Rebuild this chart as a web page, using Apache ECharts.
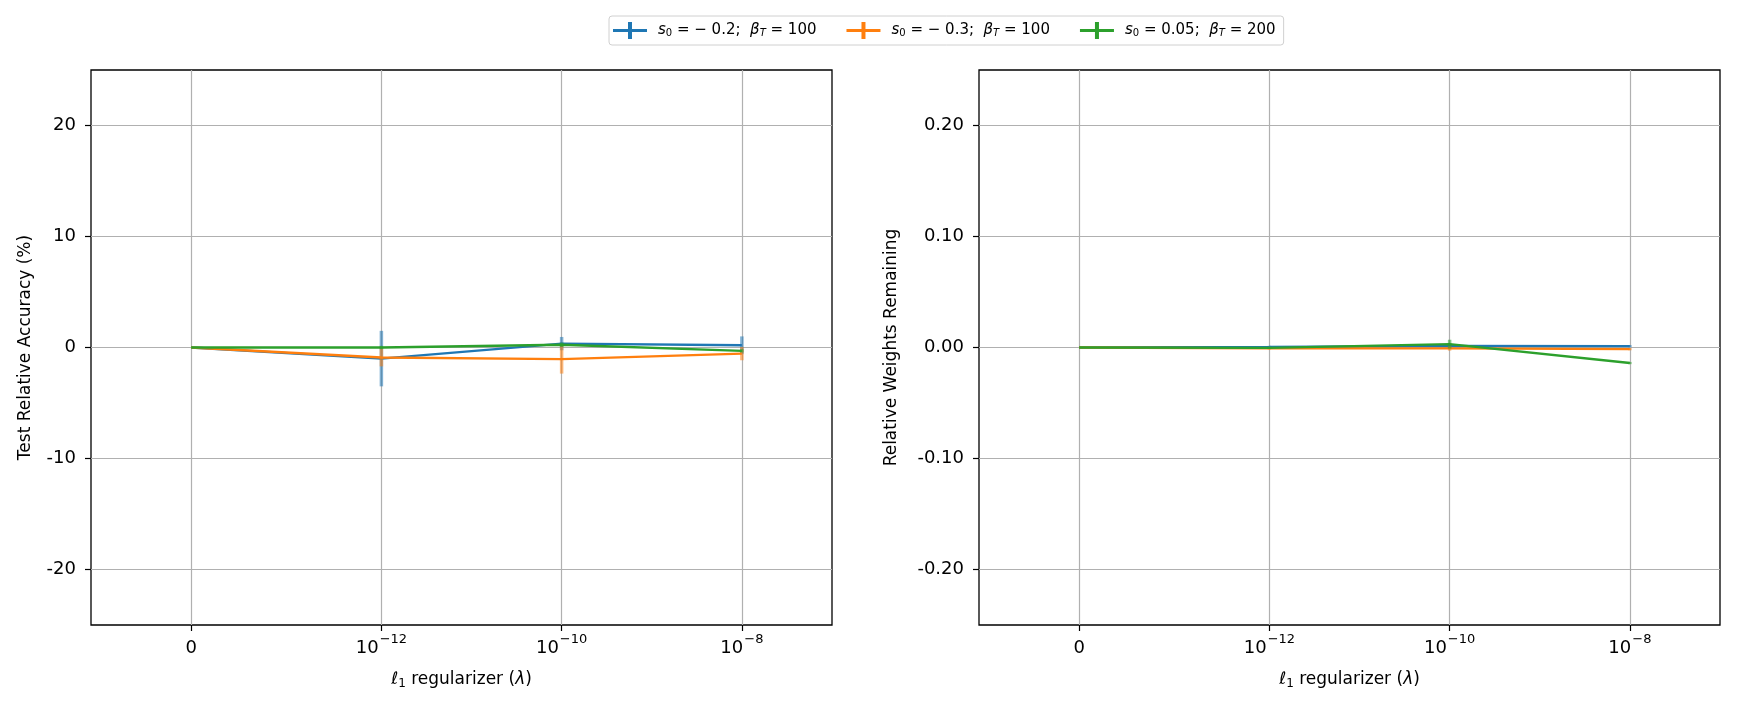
<!DOCTYPE html>
<html>
<head>
<meta charset="utf-8">
<script src="https://cdn.jsdelivr.net/npm/echarts@6/dist/echarts.min.js"></script>
<style>
html, body { margin: 0; background: #fff; }
#main { width: 1742px; height: 710px; }
</style>
</head>
<body>
<div id="main"></div>
<script>
// l1 regularizer values (x), shown on a symlog axis
var lambdas = [0, 1e-12, 1e-10, 1e-8];
var xTickLabels = ['0', '10^-12', '10^-10', '10^-8'];
var xLimits = [-1e-13, 1e-7];
var seriesNames = ['s0=-0.2, bT=100', 's0=-0.3, bT=100', 's0=0.05, bT=200'];
var colors = ['#1f77b4', '#ff7f0e', '#2ca02c'];

// left: test relative accuracy (%)
var accBlue = [0, -1.0, 0.35, 0.2];
var accBlueErr = [0, 2.5, 0.6, 0.8];
var accOrange = [0, -0.9, -1.05, -0.55];
var accOrangeErr = [0, 0.8, 1.3, 0.6];
var accGreen = [0, 0.0, 0.25, -0.3];
var accGreenErr = [0, 0.15, 0.2, 0.15];
var accTicks = [-20, -10, 0, 10, 20];

// right: relative weights remaining
var wBlue = [0, 0.0005, 0.0015, 0.0012];
var wBlueErr = [0, 0.001, 0.002, 0.001];
var wOrange = [0, -0.0008, -0.0008, -0.0015];
var wOrangeErr = [0, 0.001, 0.002, 0.001];
var wGreen = [0, -0.0003, 0.003, -0.014];
var wGreenErr = [0, 0.001, 0.004, 0.001];
var wTicks = [-0.2, -0.1, 0, 0.1, 0.2];

(function () {
    var myChart = echarts.init(document.getElementById('main'));
    var font = 'DejaVu Sans';

    // symlog transform, linthresh 1e-13, base 10
    function symlog(v) {
        var t = 1e-13, k = 1 / (1 - 1 / 10), a = Math.abs(v);
        if (a <= t) return v / t * k;
        return Math.sign(v) * (k + Math.log10(a / t));
    }
    var xPos = lambdas.map(symlog);

    var richTick = {
        b: { fontFamily: font, fontSize: 18, color: '#000', lineHeight: 24, verticalAlign: 'bottom' },
        sup: { fontFamily: font, fontSize: 13, color: '#000', verticalAlign: 'top', lineHeight: 24, padding: [0, 0, 0, 1] }
    };
    function xLabel(v) {
        var best = 0;
        for (var i = 0; i < xPos.length; i++) {
            if (Math.abs(xPos[i] - v) < Math.abs(xPos[best] - v)) best = i;
        }
        var s = xTickLabels[best].split('^');
        if (s.length === 1) return '{b|' + s[0] + '}';
        return '{b|' + s[0] + '}{sup|' + s[1].replace('-', '\u2212') + '}';
    }

    var richName = {
        n: { fontFamily: font, fontSize: 17, color: '#000' },
        i: { fontFamily: font, fontSize: 17, fontStyle: 'italic', color: '#000' },
        sub: { fontFamily: font, fontSize: 12, color: '#000', verticalAlign: 'bottom', padding: [8, 0, 0, 0] }
    };

    //误差棒
    function errRender(params, api) {
        var p1 = api.coord([api.value(0), api.value(1)]);
        var p2 = api.coord([api.value(0), api.value(2)]);
        return {
            type: 'line',
            shape: { x1: p1[0], y1: p1[1], x2: p2[0], y2: p2[1] },
            style: { stroke: api.visual('color'), lineWidth: 3.5, opacity: 0.55 }
        };
    }

    var grids = [
        { left: 91, top: 70, width: 741, height: 555 },
        { left: 979, top: 70, width: 741, height: 555 }
    ];
    grids.forEach(function (g) {
        g.show = true;
        g.borderColor = '#000';
        g.borderWidth = 1.3;
    });

    function makeX(idx) {
        return {
            type: 'value',
            gridIndex: idx,
            min: symlog(xLimits[0]),
            max: symlog(xLimits[1]),
            name: '{i|\u2113}{sub|1}{n| regularizer (}{i|\u03bb}{n|)}',
            nameLocation: 'middle',
            nameGap: 45,
            nameTextStyle: { rich: richName },
            axisLine: { show: false, onZero: false },
            axisTick: { show: true, inside: false, customValues: xPos, length: 6, lineStyle: { color: '#000', width: 1.2 } },
            axisLabel: { customValues: xPos, formatter: xLabel, rich: richTick, margin: 8 },
            splitLine: { show: true, lineStyle: { color: '#b0b0b0', width: 1.2 } }
        };
    }
    function makeY(idx, name, lim, ticks, digits, gap) {
        return {
            type: 'value',
            gridIndex: idx,
            min: -lim,
            max: lim,
            name: name,
            nameLocation: 'middle',
            nameGap: gap,
            nameTextStyle: { fontFamily: font, fontSize: 17, color: '#000' },
            axisLine: { show: false, onZero: false },
            axisTick: { show: true, inside: false, customValues: ticks, length: 6, lineStyle: { color: '#000', width: 1.2 } },
            axisLabel: {
                customValues: ticks,
                fontFamily: font, fontSize: 18, color: '#000', margin: 15,
                formatter: function (v) { return v.toFixed(digits); }
            },
            splitLine: { show: true, lineStyle: { color: '#b0b0b0', width: 1.2 } }
        };
    }

    var leftData = [[accBlue, accBlueErr], [accOrange, accOrangeErr], [accGreen, accGreenErr]];
    var rightData = [[wBlue, wBlueErr], [wOrange, wOrangeErr], [wGreen, wGreenErr]];
    var series = [];
    [leftData, rightData].forEach(function (panel, gi) {
        panel.forEach(function (d, si) {
            series.push({
                name: seriesNames[si],
                type: 'line',
                xAxisIndex: gi,
                yAxisIndex: gi,
                data: xPos.map(function (x, k) { return [x, d[0][k]]; }),
                showSymbol: false,
                color: colors[si],
                lineStyle: { width: 2.4, color: colors[si] },
                z: 3 + si * 2
            });
            series.push({
                name: seriesNames[si],
                type: 'custom',
                xAxisIndex: gi,
                yAxisIndex: gi,
                renderItem: errRender,
                encode: { x: 0, y: [1, 2] },
                data: xPos.map(function (x, k) { return [x, d[0][k] - d[1][k], d[0][k] + d[1][k]]; }),
                itemStyle: { color: colors[si] },
                z: 4 + si * 2
            });
        });
    });

    var legendRich = {
        n: { fontFamily: font, fontSize: 15, color: '#000' },
        i: { fontFamily: font, fontSize: 15, fontStyle: 'italic', color: '#000' },
        sub: { fontFamily: font, fontSize: 10, color: '#000', verticalAlign: 'bottom', padding: [6, 0, 0, 0] },
        subi: { fontFamily: font, fontSize: 10, fontStyle: 'italic', color: '#000', verticalAlign: 'bottom', padding: [6, 0, 0, 0] }
    };
    var legendText = {};
    legendText[seriesNames[0]] = '{i|s}{sub|0}{n| = \u2212 0.2;  }{i|\u03b2}{subi|T}{n| = 100}';
    legendText[seriesNames[1]] = '{i|s}{sub|0}{n| = \u2212 0.3;  }{i|\u03b2}{subi|T}{n| = 100}';
    legendText[seriesNames[2]] = '{i|s}{sub|0}{n| = 0.05;  }{i|\u03b2}{subi|T}{n| = 200}';

    var option = {
        animation: false,
        backgroundColor: '#fff',
        legend: {
            data: seriesNames,
            left: 609,
            top: 16,
            orient: 'horizontal',
            icon: 'path://M0,7 L34,7 L34,10 L0,10 Z M15,0 L19,0 L19,17 L15,17 Z',
            itemWidth: 34,
            itemHeight: 17,
            itemGap: 30,
            padding: [6, 8, 6, 4],
            borderColor: '#d0d0d0',
            borderWidth: 1,
            borderRadius: 3,
            formatter: function (name) { return legendText[name]; },
            textStyle: { rich: legendRich, padding: [0, 0, 0, 6] }
        },
        grid: grids,
        xAxis: [makeX(0), makeX(1)],
        yAxis: [
            makeY(0, 'Test Relative Accuracy (%)', 25, accTicks, 0, 57),
            makeY(1, 'Relative Weights Remaining', 0.25, wTicks, 2, 79)
        ],
        series: series
    };
    myChart.setOption(option);
    window.addEventListener('resize', function () {
        myChart.resize();
    });
})();
</script>
</body>
</html>
